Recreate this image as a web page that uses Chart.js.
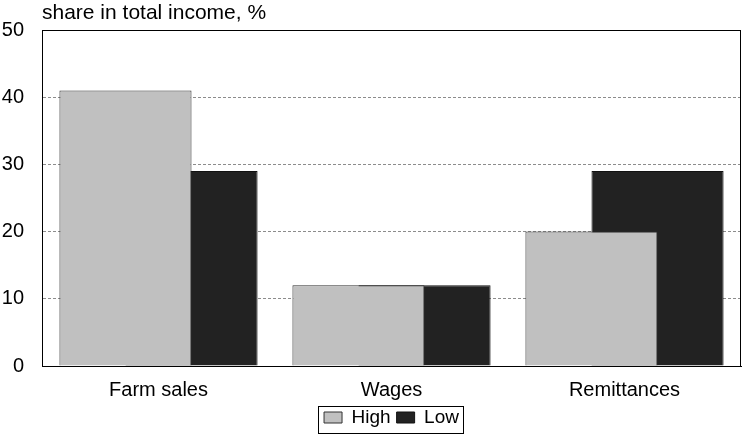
<!DOCTYPE html>
<html>
<head>
<meta charset="utf-8">
<script src="https://cdn.jsdelivr.net/npm/chart.js@4/dist/chart.umd.min.js"></script>
<style>
  html, body { margin: 0; padding: 0; background: #fff; }
  #wrap { width: 742px; height: 438px; }
</style>
</head>
<body>
<div id="wrap"><canvas id="chart"></canvas></div>
<script>
// Data
const categories = ['Farm sales', 'Wages', 'Remittances'];
const highValues = [41, 12, 20];
const lowValues = [29, 12, 29];
const yTicks = [0, 10, 20, 30, 40, 50];
const axisTitle = 'share in total income, %';

const FONT = '"Liberation Sans", Arial, sans-serif';

// Draws the frame around the plot, the axis title and the legend border
const framePlugin = {
    id: 'frame',
    beforeDatasetsDraw(chart) {
        const { ctx, chartArea: a } = chart;
        ctx.save();
        ctx.strokeStyle = '#000';
        ctx.lineWidth = 1;
        ctx.strokeRect(Math.round(a.left) + 0.5, Math.round(a.top) + 0.5,
            Math.round(a.right - a.left) - 1, Math.round(a.bottom - a.top));
        ctx.restore();
    },
    afterDraw(chart) {
        const { ctx, chartArea: a } = chart;
        ctx.save();
        ctx.fillStyle = '#000';
        ctx.font = '21px ' + FONT;
        ctx.textAlign = 'left';
        ctx.textBaseline = 'alphabetic';
        ctx.fillText(axisTitle, a.left, 19);

        // border round the legend
        const boxes = chart.legend.legendHitBoxes;
        if (boxes && boxes.length) {
            const left = Math.min(...boxes.map(b => b.left)) - 6;
            const right = Math.max(...boxes.map(b => b.left + b.width)) + 4;
            const top = Math.min(...boxes.map(b => b.top)) - 2;
            const bottom = Math.max(...boxes.map(b => b.top + b.height)) + 6;
            ctx.strokeStyle = '#000';
            ctx.lineWidth = 1;
            ctx.strokeRect(Math.round(left) + 0.5, Math.round(top) + 0.5,
                Math.round(right - left), Math.round(bottom - top));
        }
        ctx.restore();
    }
};

new Chart(document.getElementById('chart'), {
    type: 'bar',
    data: {
        labels: categories,
        datasets: [
            {
                label: 'High',
                data: highValues,
                backgroundColor: '#c0c0c0',
                borderColor: '#333333',
                borderWidth: 1
            },
            {
                label: 'Low',
                data: lowValues,
                backgroundColor: '#222222',
                borderColor: '#111111',
                borderWidth: 1
            }
        ]
    },
    options: {
        responsive: true,
        maintainAspectRatio: false,
        animation: false,
        // bars wider than their slot so the pair overlaps like the original
        categoryPercentage: 0.567,
        barPercentage: 2.0,
        layout: { padding: { top: 29, right: 1, left: 0, bottom: 1 } },
        plugins: {
            legend: {
                position: 'bottom',
                fullSize: false,
                labels: {
                    color: '#000',
                    font: { family: FONT, size: 19 },
                    boxWidth: 18,
                    boxHeight: 11,
                    padding: 6
                }
            },
            tooltip: { enabled: false }
        },
        scales: {
            x: {
                grid: { display: false, drawTicks: false },
                border: { display: true, color: '#000' },
                ticks: {
                    color: '#000',
                    font: { family: FONT, size: 20 },
                    padding: 12
                },
                afterFit(axis) { axis.height = 36; }
            },
            y: {
                min: 0,
                max: 50,
                afterBuildTicks(axis) { axis.ticks = yTicks.map(v => ({ value: v })); },
                grid: {
                    drawTicks: false,
                    color: ctx => (ctx.tick && ctx.tick.value > 0 && ctx.tick.value < 50) ? '#8c8c8c' : 'rgba(0,0,0,0)',
                    lineWidth: 1
                },
                // dashed horizontal gridlines
                border: { display: true, color: '#000', dash: [3, 2] },
                ticks: {
                    color: '#000',
                    font: { family: FONT, size: 20 },
                    padding: 18
                },
                afterFit(axis) { axis.width = 42; }
            }
        },
        elements: {
            bar: { borderSkipped: 'bottom' }
        }
    },
    plugins: [framePlugin]
});
</script>
</body>
</html>
